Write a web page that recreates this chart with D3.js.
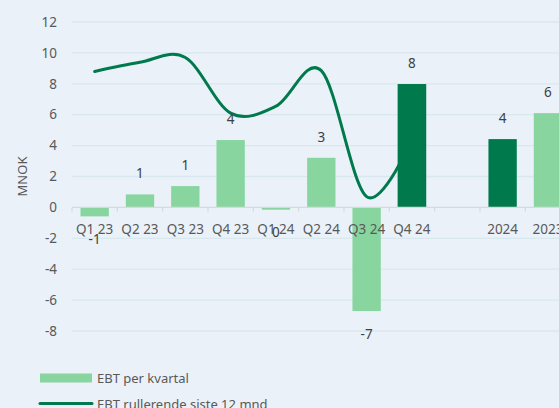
<!DOCTYPE html>
<html>
<head>
<meta charset="utf-8">
<script src="https://cdn.jsdelivr.net/npm/d3@7"></script>
<style>
  body { margin: 0; background: #eaf1f8; overflow: hidden; }
  svg { display: block; font-family: "Noto Sans", sans-serif; }
  .grid line { stroke: #d9e8ef; stroke-width: 1.3; }
</style>
</head>
<body>
<div id="wrapper"></div>
<script>
// DATA
const categories = ["Q1 23", "Q2 23", "Q3 23", "Q4 23", "Q1 24", "Q2 24", "Q3 24", "Q4 24", "", "2024", "2023"]
const barValues  = [-0.58, 0.84, 1.38, 4.36, -0.15, 3.21, -6.71, 7.98, null, 4.42, 6.1]
const barLabels  = ["-1", "1", "1", "4", "0", "3", "-7", "8", "", "4", "6"]
const darkBars   = ["Q4 24", "2024"]
const lineCats   = ["Q1 23", "Q2 23", "Q3 23", "Q4 23", "Q1 24", "Q2 24", "Q3 24", "Q4 24"]
const lineValues = [8.8, 9.4, 9.7, 6.1, 6.55, 8.85, 0.7, 4.4]
const yTicks     = [-8, -6, -4, -2, 0, 2, 4, 6, 8, 10, 12]

const width = 559, height = 408
const light = "#88d5a0", dark = "#007a4c"

const svg = d3.select('#wrapper').append('svg')
    .attr('width', width)
    .attr('height', height)

// scales (plot runs past right edge, like the reference crop)
const x = d3.scaleBand()
    .domain(categories)
    .range([72, 570.6])
    .paddingInner(0.375)
    .paddingOuter(0.1875)

const y = d3.scaleLinear()
    .domain([-8, 12])
    .range([331, 22])

// gridlines
svg.append('g').attr('class', 'grid')
    .selectAll('line')
    .data(yTicks.filter(d => d !== 0))
    .join('line')
    .attr('x1', 72).attr('x2', width)
    .attr('y1', d => y(d)).attr('y2', d => y(d))

// y labels
svg.append('g')
    .selectAll('text')
    .data(yTicks)
    .join('text')
    .attr('x', 57)
    .attr('y', d => y(d))
    .attr('dy', '0.35em')
    .attr('text-anchor', 'end')
    .attr('font-size', 13.5)
    .attr('fill', '#595959')
    .text(d => d)

svg.append('text')
    .attr('transform', `translate(27,${y(2.0)}) rotate(-90)`)
    .attr('text-anchor', 'middle')
    .attr('font-size', 13)
    .attr('fill', '#595959')
    .text('MNOK')

// bars
const barData = categories.map((c, i) => ({ c, v: barValues[i], label: barLabels[i] }))
    .filter(d => d.v !== null)

svg.append('g')
    .selectAll('rect')
    .data(barData)
    .join('rect')
    .attr('x', d => x(d.c))
    .attr('width', x.bandwidth())
    .attr('y', d => y(Math.max(0, d.v)))
    .attr('height', d => Math.abs(y(d.v) - y(0)))
    .attr('fill', d => darkBars.includes(d.c) ? dark : light)

// rolling line
const line = d3.line()
    .x((d, i) => x(lineCats[i]) + x.bandwidth() / 2)
    .y(d => y(d))
    .curve(d3.curveCardinal.tension(0))

svg.append('path')
    .datum(lineValues)
    .attr('d', line)
    .attr('fill', 'none')
    .attr('stroke', dark)
    .attr('stroke-width', 3)
    .attr('stroke-linecap', 'round')

// redraw dark Q4 24 bar on top of line end
svg.append('rect')
    .attr('x', x("Q4 24"))
    .attr('width', x.bandwidth())
    .attr('y', y(barValues[7]))
    .attr('height', y(0) - y(barValues[7]))
    .attr('fill', dark)

// x axis line + ticks
const axis = svg.append('g')
axis.append('line')
    .attr('x1', 72).attr('x2', width)
    .attr('y1', y(0)).attr('y2', y(0))
    .attr('stroke', '#d9d9d9').attr('stroke-width', 1.3)
axis.selectAll('.tick')
    .data(d3.range(categories.length + 1))
    .join('line')
    .attr('x1', i => 72 + i * x.step()).attr('x2', i => 72 + i * x.step())
    .attr('y1', y(0)).attr('y2', y(0) + 4)
    .attr('stroke', '#d9d9d9').attr('stroke-width', 1.3)

axis.selectAll('text')
    .data(categories)
    .join('text')
    .attr('x', d => x(d) + x.bandwidth() / 2)
    .attr('y', y(0) + 22)
    .attr('dy', '0.35em')
    .attr('text-anchor', 'middle')
    .attr('font-size', 13.5)
    .attr('fill', '#595959')
    .text(d => d)

// data labels
svg.append('g')
    .selectAll('text')
    .data(barData)
    .join('text')
    .attr('x', d => x(d.c) + x.bandwidth() / 2)
    .attr('y', d => d.v >= 0 ? y(d.v) - 21 : y(d.v) + 23)
    .attr('dy', '0.35em')
    .attr('text-anchor', 'middle')
    .attr('font-size', 13.5)
    .attr('fill', '#404040')
    .text(d => d.label)

// legend
const legend = svg.append('g')
legend.append('rect')
    .attr('x', 40).attr('y', 373.5).attr('width', 52).attr('height', 9)
    .attr('fill', light)
legend.append('text')
    .attr('x', 97).attr('y', 378).attr('dy', '0.35em')
    .attr('font-size', 13).attr('fill', '#595959')
    .text('EBT per kvartal')
legend.append('line')
    .attr('x1', 40).attr('x2', 92).attr('y1', 403.5).attr('y2', 403.5)
    .attr('stroke', dark).attr('stroke-width', 3).attr('stroke-linecap', 'round')
legend.append('text')
    .attr('x', 97).attr('y', 404).attr('dy', '0.35em')
    .attr('font-size', 13).attr('fill', '#595959')
    .text('EBT rullerende siste 12 mnd')
</script>
</body>
</html>
